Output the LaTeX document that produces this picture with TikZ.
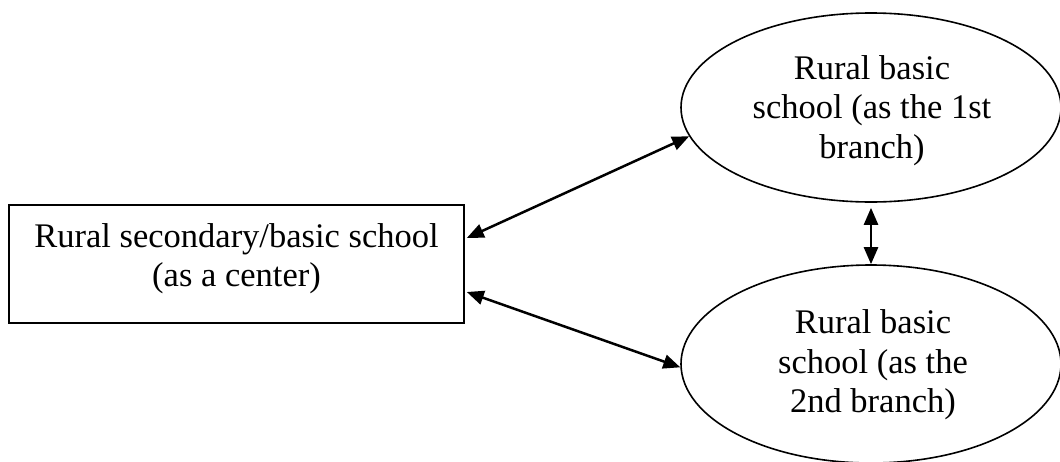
\documentclass[tikz,border=0pt]{standalone}
\usepackage{fontspec}
\setmainfont{Liberation Serif}
\usetikzlibrary{shapes.geometric,arrows.meta,calc}

\tikzset{
  shapeline/.style={draw=black, line width=1.6pt},
  centerbox/.style={shapeline, rectangle, minimum width=455pt, minimum height=118pt, inner sep=0pt},
  branchnode/.style={shapeline, ellipse, minimum width=380pt, inner sep=0pt},
  label text/.style={align=center, inner sep=0pt, font=\fontsize{34.5pt}{39.5pt}\selectfont},
  link/.style={line width=2.5pt, {Triangle[length=17pt,width=14pt]}-{Triangle[length=17pt,width=14pt]}}
}

\begin{document}
\begin{tikzpicture}[x=1pt,y=-1pt]
  \useasboundingbox (0,0) rectangle (1060,461);

  % shapes
  \node[centerbox] (center) at (236.5,264) {};
  \node[branchnode, minimum height=189pt] (first) at (871,107.5) {};
  \node[branchnode, minimum height=198pt] (second) at (871,364) {};

  % texts
  \node[label text] (centertext) at (236.5,258.5) {Rural secondary/basic school\\(as a center)};
  \node[label text] (firsttext) at (872,110.5) {Rural basic\\school (as the 1st\\branch)};
  \node[label text] (secondtext) at (873,365) {Rural basic\\school (as the\\2nd branch)};

  % connectors
  \draw[link] ($(center.east)+(2,-26)$) -- (first.189);
  \draw[link] ($(center.east)+(2,28)$) -- (second.181);
  \draw[link, shorten <=5pt] (first.south) -- (second.north);
\end{tikzpicture}
\end{document}
